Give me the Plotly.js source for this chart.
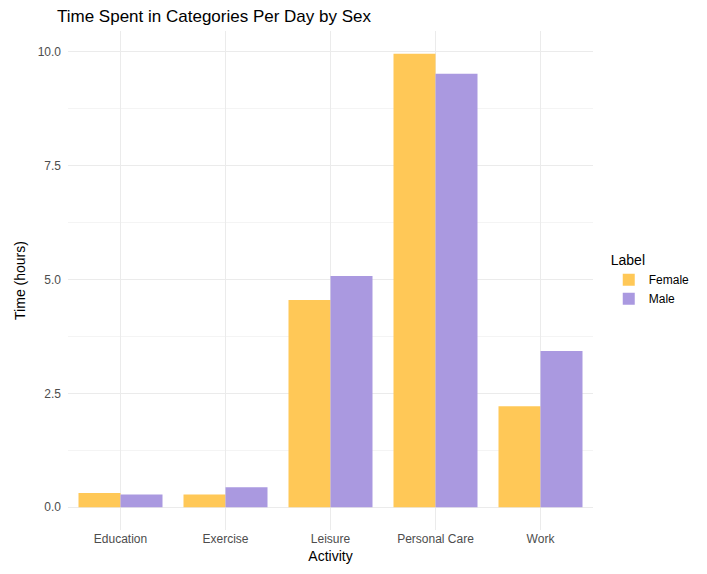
<!DOCTYPE html>
<html>
<head>
<meta charset="utf-8">
<script src="https://cdn.plot.ly/plotly-3.0.1.min.js"></script>
<style>html,body{margin:0;padding:0;background:#fff}</style>
</head>
<body>
<div id="chart" style="width:707px;height:574px"></div>
<script>
// Time spent per day, hours
const activities = ['Education', 'Exercise', 'Leisure', 'Personal Care', 'Work'];
const female = [0.31, 0.28, 4.55, 9.96, 2.22];
const male = [0.28, 0.44, 5.08, 9.52, 3.43];

const traces = [
  { x: activities, y: female, name: 'Female', type: 'bar', marker: { color: '#FFC857' } },
  { x: activities, y: male, name: 'Male', type: 'bar', marker: { color: '#AA99E0' } },
];

const grid = '#EBEBEB';
const layout = {
  width: 707, height: 574,
  paper_bgcolor: '#fff', plot_bgcolor: '#fff',
  font: { family: 'Liberation Sans, Arial, sans-serif', size: 12, color: '#4D4D4D' },
  margin: { t: 31, r: 107, b: 44, l: 68, pad: 0 },
  barmode: 'group', bargap: 0.2, bargroupgap: 0,
  title: { text: 'Time Spent in Categories Per Day by Sex', x: 57 / 707, xanchor: 'left', y: 0.972, yanchor: 'middle',
           font: { size: 17, color: '#000' } },
  xaxis: {
    showgrid: true, gridcolor: grid, zeroline: false, ticks: '', tickfont: { color: '#4D4D4D', size: 12 },
    title: { text: 'Activity', font: { size: 14, color: '#000' }, standoff: 6 },
  },
  yaxis: {
    range: [-0.5, 10.46], tickvals: [0, 2.5, 5, 7.5, 10], ticktext: ['0.0', '2.5', '5.0', '7.5', '10.0'],
    showgrid: true, gridcolor: grid, zeroline: false, ticks: '', ticklabelstandoff: 6,
    minor: { tickvals: [1.25, 3.75, 6.25, 8.75], showgrid: true, gridcolor: '#F4F4F4' },
    title: { text: 'Time (hours)', font: { size: 14, color: '#000' }, standoff: 8 },
  },
  legend: {
    x: 1.03, y: 0.5, yanchor: 'middle', xanchor: 'left',
    title: { text: 'Label', font: { size: 14, color: '#000' } },
    font: { size: 12, color: '#000' },
  },
};

Plotly.newPlot('chart', traces, layout, { displayModeBar: false });
</script>
</body>
</html>
